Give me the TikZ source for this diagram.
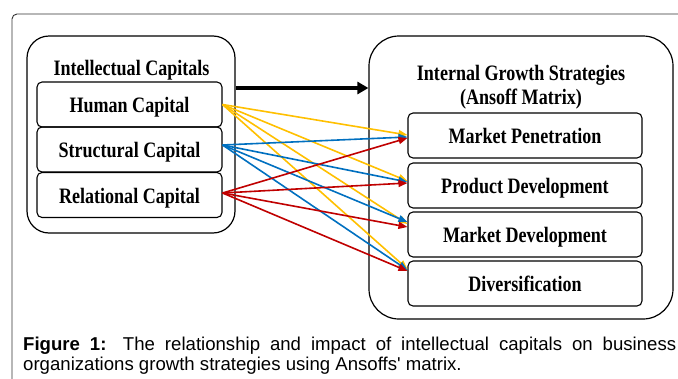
\documentclass[tikz,border=0pt]{standalone}
\usepackage{fontspec}
\usetikzlibrary{arrows.meta}
\newfontfamily\dfont[FakeStretch=0.82]{Liberation Serif}
\newfontfamily\cfont{Liberation Sans}
\definecolor{cy}{HTML}{FFC000}
\definecolor{cb}{HTML}{0070C0}
\definecolor{cr}{HTML}{C00000}
\begin{document}
\begin{tikzpicture}[x=1pt,y=-1pt,
  dtext/.style={font=\dfont\bfseries\fontsize{22}{26}\selectfont},
  container/.style={draw, line width=1.2pt, inner sep=0pt},
  capbox/.style={draw, line width=1.1pt, rounded corners=5pt, inner sep=0pt,
    minimum height=45pt, text height=16pt, text depth=0pt, dtext},
  link/.style={line width=1.6pt, -{Triangle[length=9pt,width=7pt]}},
  bigarrow/.style={line width=4pt, -{Triangle[length=11pt,width=12pt]}}]
\useasboundingbox (0,0) rectangle (678,378);
\fill[white] (0,0) rectangle (678,378);
% outer frame
\draw[black!80, line width=0.9pt, rounded corners=5pt] (12,380) -- (12,14) -- (680,14);
% left container
\node[container, rounded corners=22pt, minimum width=208pt, minimum height=197pt] (lc) at (131,134.5) {};
\node[dtext, anchor=base] (lt) at (131.5,75) {Intellectual Capitals};
\node[capbox, minimum width=185pt] (hc) at (129.5,104.5) {Human Capital};
\node[capbox, minimum width=185pt] (sc) at (129.5,149.5) {Structural Capital};
\node[capbox, minimum width=185pt] (rc) at (129.5,195) {Relational Capital};
% right container
\node[container, rounded corners=30pt, minimum width=304pt, minimum height=283pt] (gc) at (521,177.5) {};
\node[dtext, anchor=base, align=center] (gt) at (521,104) {Internal Growth Strategies\\[-2pt](Ansoff Matrix)};
\node[capbox, minimum width=234pt] (mp) at (525,135.5) {Market Penetration};
\node[capbox, minimum width=234pt] (pd) at (525,185.5) {Product Development};
\node[capbox, minimum width=234pt] (md) at (525,234.5) {Market Development};
\node[capbox, minimum width=234pt] (dv) at (525,283.5) {Diversification};
% big arrow
\draw[bigarrow] ([yshift=46.5pt]lc.east) -- ([yshift=89.5pt]gc.west);
% yellow links
\draw[link, cy] (hc.east) -- ([yshift=0.5pt]mp.west);
\draw[link, cy] (hc.east) -- ([yshift=4.5pt]pd.west);
\draw[link, cy] (hc.east) -- ([yshift=10.5pt]md.west);
\draw[link, cy] (hc.east) -- ([yshift=14.5pt]dv.west);
% blue links
\draw[link, cb] ([yshift=4.5pt]sc.east) -- ([yshift=-1.5pt]mp.west);
\draw[link, cb] ([yshift=4.5pt]sc.east) -- ([yshift=3.5pt]pd.west);
\draw[link, cb] ([yshift=4.5pt]sc.east) -- ([yshift=12.5pt]md.west);
\draw[link, cb] ([yshift=4.5pt]sc.east) -- ([yshift=13.5pt]dv.west);
% red links
\draw[link, cr] ([yshift=2pt]rc.east) -- ([yshift=-2.5pt]mp.west);
\draw[link, cr] ([yshift=2pt]rc.east) -- ([yshift=2.5pt]pd.west);
\draw[link, cr] ([yshift=2pt]rc.east) -- ([yshift=7.5pt]md.west);
\draw[link, cr] ([yshift=2pt]rc.east) -- ([yshift=12.5pt]dv.west);
% caption
\node[anchor=base west, text width=653pt, align=justify, inner sep=0pt,
  font=\cfont\fontsize{18.6}{20}\selectfont] (cap) at (23,350)
  {\noindent\textbf{Figure 1:} The relationship and impact of intellectual capitals on business\linebreak organizations growth strategies using Ansoffs' matrix.};
\end{tikzpicture}
\end{document}
